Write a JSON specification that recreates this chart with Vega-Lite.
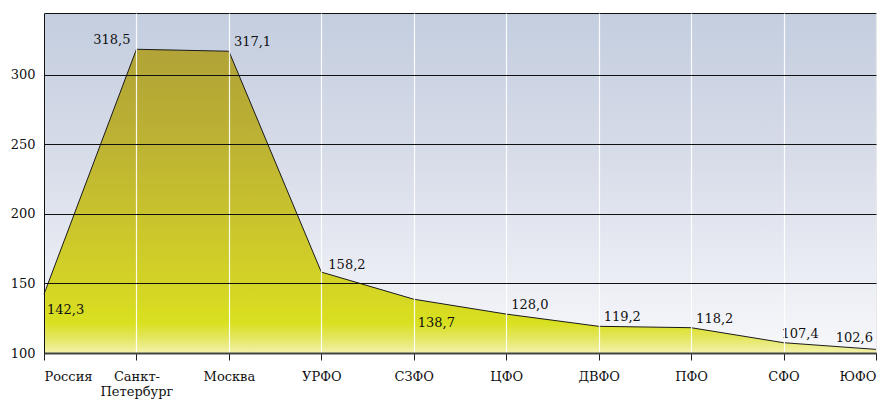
{
  "$schema": "https://vega.github.io/schema/vega-lite/v6.json",
  "autosize": "none",
  "width": 832,
  "height": 340,
  "padding": {"left": 44, "top": 13, "right": 1, "bottom": 50},
  "background": "#ffffff",
  "config": {
    "locale": {"number": {"decimal": ",", "thousands": " ", "grouping": [3], "currency": ["", ""]}},
    "font": "DejaVu Serif",
    "text": {"font": "DejaVu Serif", "fontSize": 13, "color": "#111111", "baseline": "alphabetic"},
    "view": {
      "stroke": "#111111",
      "strokeWidth": 1,
      "fill": {
        "gradient": "linear",
        "x1": 0, "y1": 0, "x2": 0, "y2": 1,
        "stops": [
          {"offset": 0, "color": "#c4cedf"},
          {"offset": 0.4, "color": "#d6dbe8"},
          {"offset": 1, "color": "#f7f8fb"}
        ]
      }
    },
    "axis": {
      "labelFont": "DejaVu Serif",
      "labelFontSize": 13,
      "labelColor": "#111111",
      "title": null
    }
  },
  "data": {
    "values": [
      {"region": "Россия", "value": 142.3},
      {"region": "Санкт-Петербург", "value": 318.5},
      {"region": "Москва", "value": 317.1},
      {"region": "УРФО", "value": 158.2},
      {"region": "СЗФО", "value": 138.7},
      {"region": "ЦФО", "value": 128.0},
      {"region": "ДВФО", "value": 119.2},
      {"region": "ПФО", "value": 118.2},
      {"region": "СФО", "value": 107.4},
      {"region": "ЮФО", "value": 102.6}
    ]
  },
  "encoding": {
    "x": {
      "field": "region",
      "type": "ordinal",
      "sort": null,
      "scale": {"type": "point", "padding": 0},
      "axis": {
        "labelAngle": 0,
        "labelFlush": true,
        "labelPadding": 10,
        "labelLineHeight": 15,
        "labelExpr": "datum.value == 'Санкт-Петербург' ? ['Санкт-', 'Петербург'] : datum.label",
        "tickSize": 7,
        "tickColor": "#222222",
        "domainColor": "#444444",
        "domainWidth": 2,
        "grid": true,
        "gridColor": "#ffffff",
        "gridWidth": 1.2,
        "gridOpacity": 0.9,
        "zindex": 1
      }
    },
    "y": {
      "field": "value",
      "type": "quantitative",
      "scale": {"domain": [100, 344.6], "nice": false, "zero": false},
      "axis": {
        "values": [100, 150, 200, 250, 300],
        "ticks": false,
        "labelPadding": 9,
        "domainColor": "#111111",
        "grid": true,
        "gridColor": "#111111",
        "gridWidth": 1,
        "zindex": 1
      }
    }
  },
  "layer": [
    {
      "mark": {
        "type": "area",
        "opacity": 1,
        "fillOpacity": 1,
        "line": {"color": "#1a1a1a", "strokeWidth": 1},
        "color": {
          "gradient": "linear",
          "x1": 0, "y1": 0, "x2": 0, "y2": 1,
          "stops": [
            {"offset": 0, "color": "#b1a337"},
            {"offset": 0.32, "color": "#bdb333"},
            {"offset": 0.55, "color": "#c9c32d"},
            {"offset": 0.77, "color": "#d3d326"},
            {"offset": 0.9, "color": "#d9e01f"},
            {"offset": 0.95, "color": "#e4e65e"},
            {"offset": 1, "color": "#f3f2ab"}
          ]
        }
      },
      "encoding": {"y2": {"datum": 100}}
    },
    {
      "transform": [{"filter": {"field": "region", "oneOf": ["Санкт-Петербург"]}}],
      "mark": {"type": "text", "align": "right", "dx": -6, "dy": -5},
      "encoding": {"text": {"field": "value", "type": "quantitative", "format": ".1f"}}
    },
    {
      "transform": [{"filter": {"field": "region", "oneOf": ["ЮФО"]}}],
      "mark": {"type": "text", "align": "right", "dx": -3, "dy": -7},
      "encoding": {"text": {"field": "value", "type": "quantitative", "format": ".1f"}}
    },
    {
      "transform": [{"filter": {"field": "region", "oneOf": ["Москва", "ЦФО", "ДВФО", "ПФО"]}}],
      "mark": {"type": "text", "align": "left", "dx": 5, "dy": -5},
      "encoding": {"text": {"field": "value", "type": "quantitative", "format": ".1f"}}
    },
    {
      "transform": [{"filter": {"field": "region", "oneOf": ["УРФО"]}}],
      "mark": {"type": "text", "align": "left", "dx": 7, "dy": -3},
      "encoding": {"text": {"field": "value", "type": "quantitative", "format": ".1f"}}
    },
    {
      "transform": [{"filter": {"field": "region", "oneOf": ["СФО"]}}],
      "mark": {"type": "text", "align": "left", "dx": -2, "dy": -5},
      "encoding": {"text": {"field": "value", "type": "quantitative", "format": ".1f"}}
    },
    {
      "transform": [{"filter": {"field": "region", "oneOf": ["Россия"]}}],
      "mark": {"type": "text", "align": "left", "dx": 3, "dy": 20},
      "encoding": {"text": {"field": "value", "type": "quantitative", "format": ".1f"}}
    },
    {
      "transform": [{"filter": {"field": "region", "oneOf": ["СЗФО"]}}],
      "mark": {"type": "text", "align": "left", "dx": 4, "dy": 28},
      "encoding": {"text": {"field": "value", "type": "quantitative", "format": ".1f"}}
    }
  ]
}
